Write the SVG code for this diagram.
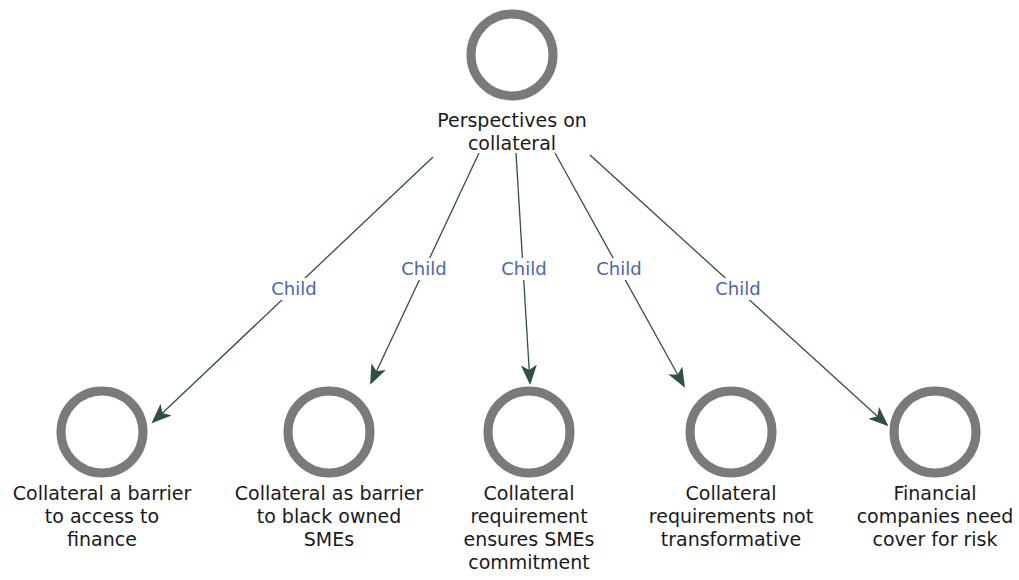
<svg xmlns="http://www.w3.org/2000/svg" width="1019" height="580" viewBox="0 0 1019 580">
  <style>
    .ring { fill: #ffffff; stroke: #7a7a7a; stroke-width: 9; }
    .label { font-family: "DejaVu Sans", Verdana, sans-serif; font-size: 19px; fill: #1a1a1a; text-anchor: middle; }
    .edge { stroke: #2f4f4a; stroke-width: 1.3; fill: none; marker-end: url(#arrow); }
    .elabel { font-family: "DejaVu Sans", Verdana, sans-serif; font-size: 18px; fill: #4a66aa; text-anchor: middle; }
    .lbg { fill: #ffffff; }
  </style>
  <defs>
    <marker id="arrow" viewBox="0 0 20 16" refX="18" refY="8" markerWidth="20" markerHeight="16" markerUnits="userSpaceOnUse" orient="auto">
      <path d="M0,0 L20,8 L0,16 L5,8 Z" fill="#2f4f4a"/>
    </marker>
  </defs>
  <rect width="1019" height="580" fill="#ffffff"/>

  <g id="connectors">
    <line class="edge" x1="433" y1="157" x2="153" y2="422"/>
    <line class="edge" x1="479" y1="153" x2="371" y2="383"/>
    <line class="edge" x1="516" y1="153" x2="530" y2="383"/>
    <line class="edge" x1="555" y1="153" x2="684" y2="386"/>
    <line class="edge" x1="590" y1="155" x2="887" y2="425"/>
    <rect class="lbg" x="266" y="278" width="56" height="22"/>
    <rect class="lbg" x="396" y="258" width="56" height="22"/>
    <rect class="lbg" x="496" y="258" width="56" height="22"/>
    <rect class="lbg" x="591" y="258" width="56" height="22"/>
    <rect class="lbg" x="710" y="278" width="56" height="22"/>
    <text class="elabel" x="294" y="295">Child</text>
    <text class="elabel" x="424" y="275">Child</text>
    <text class="elabel" x="524" y="275">Child</text>
    <text class="elabel" x="619" y="275">Child</text>
    <text class="elabel" x="738" y="295">Child</text>
  </g>

  <g id="node-root">
    <circle class="ring" cx="512" cy="55" r="41"/>
    <text class="label" x="512" y="127">Perspectives on</text>
    <text class="label" x="512" y="150">collateral</text>
  </g>

  <g id="node-barrier-access">
    <circle class="ring" cx="102" cy="432" r="41"/>
    <text class="label" x="102" y="500">Collateral a barrier</text>
    <text class="label" x="102" y="523">to access to</text>
    <text class="label" x="102" y="546">finance</text>
  </g>

  <g id="node-barrier-black-owned">
    <circle class="ring" cx="329" cy="432" r="41"/>
    <text class="label" x="329" y="500">Collateral as barrier</text>
    <text class="label" x="329" y="523">to black owned</text>
    <text class="label" x="329" y="546">SMEs</text>
  </g>

  <g id="node-commitment">
    <circle class="ring" cx="529" cy="432" r="41"/>
    <text class="label" x="529" y="500">Collateral</text>
    <text class="label" x="529" y="523">requirement</text>
    <text class="label" x="529" y="546">ensures SMEs</text>
    <text class="label" x="529" y="569">commitment</text>
  </g>

  <g id="node-not-transformative">
    <circle class="ring" cx="731" cy="432" r="41"/>
    <text class="label" x="731" y="500">Collateral</text>
    <text class="label" x="731" y="523">requirements not</text>
    <text class="label" x="731" y="546">transformative</text>
  </g>

  <g id="node-cover-risk">
    <circle class="ring" cx="935" cy="432" r="41"/>
    <text class="label" x="935" y="500">Financial</text>
    <text class="label" x="935" y="523">companies need</text>
    <text class="label" x="935" y="546">cover for risk</text>
  </g>
</svg>
